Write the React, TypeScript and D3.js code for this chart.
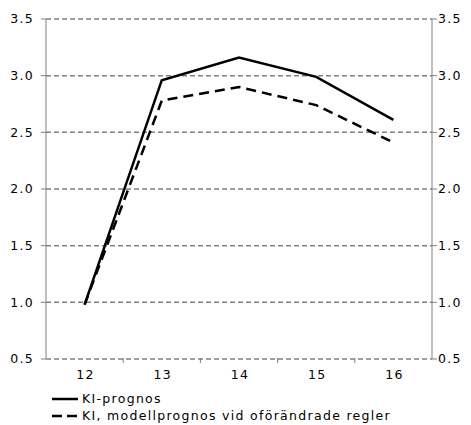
import React from "react";
import * as d3 from "d3";

const years = ["12", "13", "14", "15", "16"];
const kiPrognos = [0.98, 2.96, 3.16, 2.99, 2.61];
const modellPrognos = [0.98, 2.78, 2.9, 2.74, 2.41];
const yTicks = [0.5, 1.0, 1.5, 2.0, 2.5, 3.0, 3.5];
const legendLabels = ["KI-prognos", "KI, modellprognos vid oförändrade regler"];

const W = 471;
const H = 425;
const left = 46;
const right = 432;
const top = 19;
const bottom = 359;
const font = "Verdana, 'DejaVu Sans', sans-serif";

export default function App() {
  const x = d3.scaleBand<string>().domain(years).range([left, right]);
  const y = d3.scaleLinear().domain([0.5, 3.5]).range([bottom, top]);
  const cx = (d: string) => (x(d) ?? 0) + x.bandwidth() / 2;
  const line = d3
    .line<number>()
    .x((_, i) => cx(years[i]))
    .y((v) => y(v));
  const boundaries = years.slice(1).map((d) => x(d) ?? 0);
  const grid = "#808080";

  return (
    <svg
      width={W}
      height={H}
      style={{ position: "absolute", left: 0, top: 0, background: "#fff" }}
      fontFamily={font}
      fontSize={12.5}
      letterSpacing={1.3}
    >
      {yTicks.map((t) => (
        <line
          key={"g" + t}
          x1={left}
          x2={right}
          y1={y(t)}
          y2={y(t)}
          stroke={grid}
          strokeWidth={1.5}
          strokeDasharray="5,3"
        />
      ))}
      <line x1={left} x2={left} y1={top} y2={bottom} stroke={grid} strokeWidth={1} />
      <line x1={right} x2={right} y1={top} y2={bottom} stroke={grid} strokeWidth={1} />
      {yTicks.map((t) => (
        <g key={"t" + t}>
          <line x1={left - 5} x2={left} y1={y(t)} y2={y(t)} stroke={grid} />
          <line x1={right} x2={right + 5} y1={y(t)} y2={y(t)} stroke={grid} />
          <text x={left - 12} y={y(t)} dy="0.35em" textAnchor="end" fill="#000">
            {t.toFixed(1)}
          </text>
          <text x={right + 6} y={y(t)} dy="0.35em" textAnchor="start" fill="#000">
            {t.toFixed(1)}
          </text>
        </g>
      ))}
      {boundaries.map((b) => (
        <line key={"b" + b} x1={b} x2={b} y1={bottom - 1} y2={bottom + 4} stroke={grid} />
      ))}
      {years.map((d) => (
        <text key={"x" + d} x={cx(d) + 1} y={bottom + 20} textAnchor="middle" fill="#000">
          {d}
        </text>
      ))}
      <path d={line(kiPrognos) ?? ""} fill="none" stroke="#000" strokeWidth={2.5} />
      <path
        d={line(modellPrognos) ?? ""}
        fill="none"
        stroke="#000"
        strokeWidth={2.5}
        strokeDasharray="10,6"
      />
      <g>
        <line x1={52} x2={78} y1={399} y2={399} stroke="#000" strokeWidth={2.5} />
        <text x={82} y={399} dy="0.35em" fill="#000">
          {legendLabels[0]}
        </text>
        <line
          x1={52}
          x2={78}
          y1={416}
          y2={416}
          stroke="#000"
          strokeWidth={2.5}
          strokeDasharray="10,5"
        />
        <text x={82} y={416} dy="0.35em" fill="#000">
          {legendLabels[1]}
        </text>
      </g>
    </svg>
  );
}
